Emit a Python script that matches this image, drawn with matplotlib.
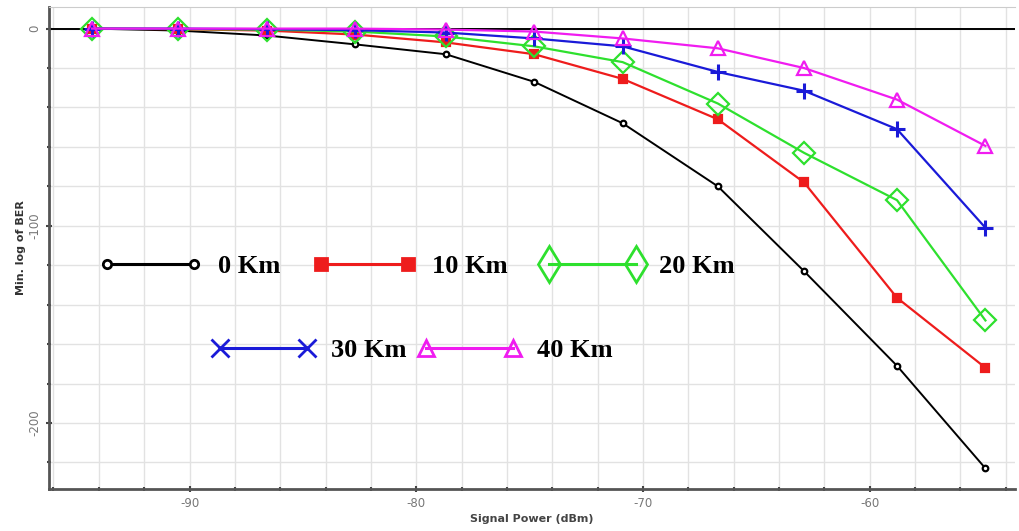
import numpy as np
import matplotlib
matplotlib.use('Agg')
import matplotlib.pyplot as plt
from matplotlib.lines import Line2D
from matplotlib.ticker import MultipleLocator

plt.rcParams['axes.unicode_minus'] = False

# donnees
power = [-94.3, -90.5, -86.6, -82.7, -78.7, -74.8, -70.9, -66.7, -62.9, -58.8, -54.9]
ber_0km = [0, -1, -3.5, -8, -13, -27, -48, -80, -123, -171, -223]
ber_10km = [0, -0.3, -1, -3, -7, -13, -25.5, -46, -78, -136.5, -172]
ber_20km = [0, -0.2, -0.5, -1.5, -4, -9, -17, -38, -63, -87, -148]
ber_30km = [0, 0, -0.3, -0.8, -2, -5, -9, -22, -31.5, -51, -101]
ber_40km = [0, 0, 0, 0, -0.5, -1.5, -5, -10, -20, -36, -59.5]
labels = ["0 Km", "10 Km", "20 Km", "30 Km", "40 Km"]

series = [ber_0km, ber_10km, ber_20km, ber_30km, ber_40km]
colors = ['black', '#ee1c1c', '#2ee02e', '#1a1ad8', '#f01cf0']
# (marqueur, taille, remplissage) dans le graphe et dans la legende
plot_mk = [('o', 4, 'white'), ('s', 6, None), ('D', 11, 'none'), ('+', 11, None), ('^', 10, 'none')]
leg_mk = [('o', 6, 'white'), ('s', 8, None), ('d', 18, 'none'), ('x', 13, None), ('^', 12, 'none')]

fig = plt.figure(figsize=(10.2, 5.31), dpi=100)
ax = fig.add_axes([0.048, 0.079, 0.947, 0.908])

for ys, c, (m, ms, fc) in zip(series, colors, plot_mk):
    ax.plot(power, ys, color=c, lw=1.6 if c != 'black' else 1.4, marker=m, ms=ms,
            mfc=fc if fc else c, mec=c, mew=1.6 if m != '+' else 2.2, zorder=3)

ax.axhline(0, color='black', lw=1.4, zorder=2)

ax.set_xlim(-96.2, -53.6)
ax.set_ylim(-233.5, 11)
ax.xaxis.set_major_locator(MultipleLocator(10))
ax.xaxis.set_minor_locator(MultipleLocator(2))
ax.yaxis.set_major_locator(MultipleLocator(100))
ax.yaxis.set_minor_locator(MultipleLocator(20))
ax.grid(True, which='both', color='#e2e2e2', lw=1.0, zorder=0)
ax.set_axisbelow(True)

for s in ['left', 'bottom']:
    ax.spines[s].set_color('#555555')
    ax.spines[s].set_linewidth(2)
ax.spines['top'].set_color('#cccccc')
ax.spines['right'].set_visible(False)

ax.tick_params(which='both', direction='inout', colors='#444444', labelcolor='#777777',
               labelsize=8.5, length=4, width=1.5)
ax.tick_params(which='minor', length=3)
for t in ax.get_yticklabels():
    t.set_rotation(90)
    t.set_va('center')

ax.set_xlabel("Signal Power (dBm)", fontsize=8, fontweight='bold', color='#444444', labelpad=3)
ax.set_ylabel("Min. log of BER", fontsize=8, fontweight='bold', color='#333333', labelpad=2)

# legende en deux lignes, comme sur l'original
handles = []
for c, (m, ms, fc) in zip(colors, leg_mk):
    handles.append(Line2D([], [], color=c, lw=2.2, marker=m, ms=ms, mfc=fc if fc else c,
                          mec=c, mew=2))

leg_font = {'family': 'Liberation Serif', 'weight': 'bold', 'size': 19}
leg1 = ax.legend(handles[:3], labels[:3], loc='center left', bbox_to_anchor=(0.052, 0.462),
                 ncol=3, numpoints=2, frameon=False, prop=leg_font, handlelength=3.9,
                 handletextpad=0.6, columnspacing=1.25, borderpad=0, borderaxespad=0)
ax.add_artist(leg1)
ax.legend(handles[3:], labels[3:], loc='center left', bbox_to_anchor=(0.169, 0.288),
          ncol=2, numpoints=2, frameon=False, prop=leg_font, handlelength=3.9,
          handletextpad=0.6, columnspacing=0.45, borderpad=0, borderaxespad=0)

plt.savefig("out.png", dpi=100)
